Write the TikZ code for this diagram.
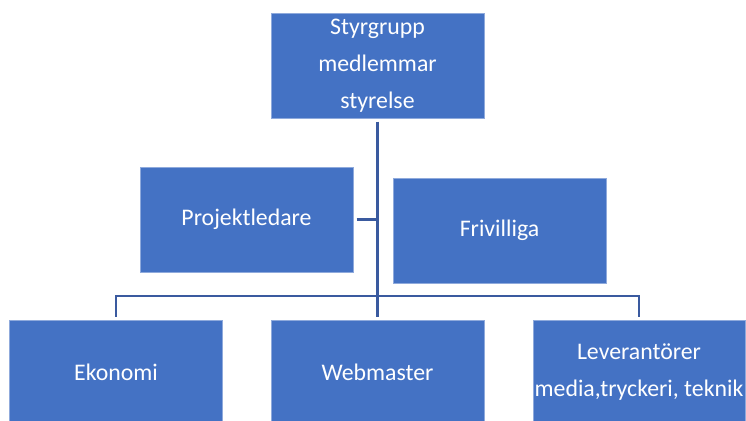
\documentclass[tikz,border=0pt]{standalone}
\usepackage{fontspec}
\setmainfont{Carlito}
\definecolor{boxfill}{HTML}{4472C4}
\definecolor{boxedge}{HTML}{8FAADC}
\definecolor{conncol}{HTML}{3A5A9F}
\begin{document}
\begin{tikzpicture}[x=0.5pt,y=-0.5pt,
  orgbox/.style={rectangle, fill=boxfill, draw=boxedge, line width=0.5pt,
    minimum width=106.5pt, minimum height=52.5pt, inner sep=0pt,
    text=white, align=center,
    font=\fontsize{11.9pt}{18.5pt}\selectfont},
  conn/.style={draw=conncol, line width=1.25pt, shorten <=1.5pt, shorten >=1.5pt}]
\useasboundingbox (0,0) rectangle (746,420);
\clip (0,0) rectangle (746,420);
\node[orgbox] (top) at (377.5,65.5) {Styrgrupp\\medlemmar\\styrelse};
\node[orgbox] (proj) at (246.5,219.5) {Projektledare};
\node[orgbox] (friv) at (499.5,230.5) {Frivilliga};
\node[orgbox] (eko) at (116,372.5) {Ekonomi};
\node[orgbox] (web) at (377.5,372.5) {Webmaster};
\node[orgbox, minimum width=106pt] (lev) at (639,372.5) {Leverantörer\\media,tryckeri, teknik};
\coordinate (bus) at (377.5,296);
\draw[conn] (top.south) -- (web.north);
\draw[conn, shorten >=0pt] (proj.east) -- (proj.east -| top.south);
\draw[conn] (eko.north) -- (eko.north |- bus) -- (lev.north |- bus) -- (lev.north);
\end{tikzpicture}
\end{document}
